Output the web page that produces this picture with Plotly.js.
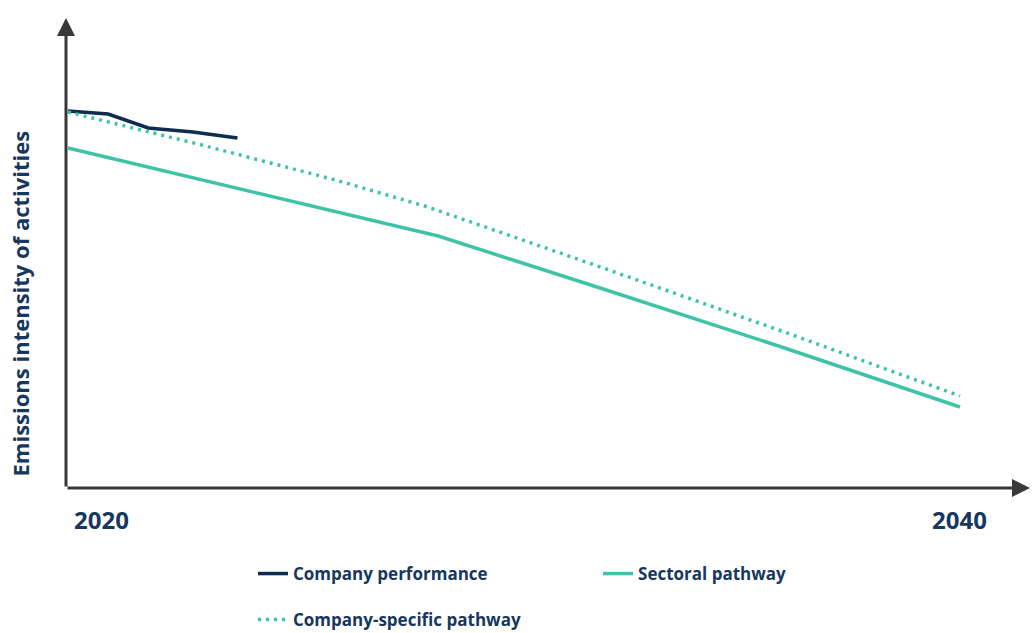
<!DOCTYPE html>
<html>
<head>
<meta charset="utf-8">
<script src="https://cdn.plot.ly/plotly-3.0.1.min.js"></script>
<style>html,body{margin:0;padding:0;background:#fff;}#chart{width:1034px;height:633px;}</style>
</head>
<body>
<div id="chart"></div>
<script>
// Data (arbitrary intensity units)
const perfYears = [2020, 2020.9, 2021.8, 2022.8, 2023.8];
const perfValues = [377, 374, 360, 356, 350];

const sectorYears = [2020, 2024, 2028.3, 2032, 2036, 2040];
const sectorValues = [340, 298, 252, 199, 141, 81];

const specificYears = [2020, 2023, 2026, 2028, 2032, 2036, 2040];
const specificValues = [376, 343, 308, 282, 220, 157, 92];

const tickYears = [2020, 2040];
const tickLabels = ['2020', '2040'];

const seriesNames = ['Company performance', 'Sectoral pathway', 'Company-specific pathway'];
const yTitle = 'Emissions intensity of activities';

const navy = '#0e2b50';
const teal = '#3fc3a7';
const textColor = '#17375e';
const axisColor = '#383838';
const FONT = 'Open Sans, sans-serif';

const xr = [2019.955, 2041.57];
const yr = [0, 470];

const traces = [
  {x: perfYears, y: perfValues, name: seriesNames[0], type: 'scatter', mode: 'lines',
   line: {color: navy, width: 3.5}, legend: 'legend'},
  {x: sectorYears, y: sectorValues, name: seriesNames[1], type: 'scatter', mode: 'lines',
   line: {color: teal, width: 3.5}, legend: 'legend'},
  {x: specificYears, y: specificValues, name: seriesNames[2], type: 'scatter', mode: 'lines',
   line: {color: teal, width: 3.5, dash: '3px,5px'}, legend: 'legend2'}
];

const annotations = [
  // y axis arrow
  {x: xr[0], y: yr[1], ax: xr[0], ay: yr[0], xref: 'x', yref: 'y', axref: 'x', ayref: 'y',
   showarrow: true, arrowhead: 2, arrowsize: 1.2, arrowwidth: 3, arrowcolor: axisColor, text: '', standoff: 0},
  // x axis arrow
  {x: xr[1], y: yr[0], ax: xr[0], ay: yr[0], xref: 'x', yref: 'y', axref: 'x', ayref: 'y',
   showarrow: true, arrowhead: 2, arrowsize: 1.2, arrowwidth: 3, arrowcolor: axisColor, text: '', standoff: 0},
  // tick labels
  {x: tickYears[0], y: 0, xref: 'x', yref: 'y', text: '<b>' + tickLabels[0] + '</b>', showarrow: false,
   xanchor: 'left', yanchor: 'middle', xshift: 4, yshift: -31, font: {family: FONT, size: 24, color: textColor}},
  {x: tickYears[1], y: 0, xref: 'x', yref: 'y', text: '<b>' + tickLabels[1] + '</b>', showarrow: false,
   xanchor: 'center', yanchor: 'middle', yshift: -31, font: {family: FONT, size: 24, color: textColor}},
  // y title
  {x: 0, y: 0.3926, xref: 'paper', yref: 'paper', text: '<b>' + yTitle + '</b>', showarrow: false,
   textangle: -90, xanchor: 'center', yanchor: 'middle', xshift: -46, font: {family: FONT, size: 22, color: textColor}}
];

const layout = {
  width: 1034, height: 633,
  margin: {l: 66, r: 4, t: 18, b: 145, autoexpand: false},
  paper_bgcolor: '#ffffff', plot_bgcolor: '#ffffff',
  showlegend: true,
  xaxis: {range: xr, showgrid: false, zeroline: false, showticklabels: false, showline: false, ticks: ''},
  yaxis: {range: yr, showgrid: false, zeroline: false, showticklabels: false, showline: false, ticks: ''},
  legend: {orientation: 'h', x: 0.194, xanchor: 'left', y: -0.183, yanchor: 'middle',
    entrywidth: 300, entrywidthmode: 'pixels', font: {family: FONT, size: 17, color: textColor, weight: 'bold'},
    bgcolor: 'rgba(0,0,0,0)'},
  legend2: {orientation: 'h', x: 0.194, xanchor: 'left', y: -0.281, yanchor: 'middle',
    font: {family: FONT, size: 17, color: textColor, weight: 'bold'}, bgcolor: 'rgba(0,0,0,0)'},
  annotations: annotations
};

Plotly.newPlot('chart', traces, layout, {displayModeBar: false, staticPlot: true});
</script>
</body>
</html>
